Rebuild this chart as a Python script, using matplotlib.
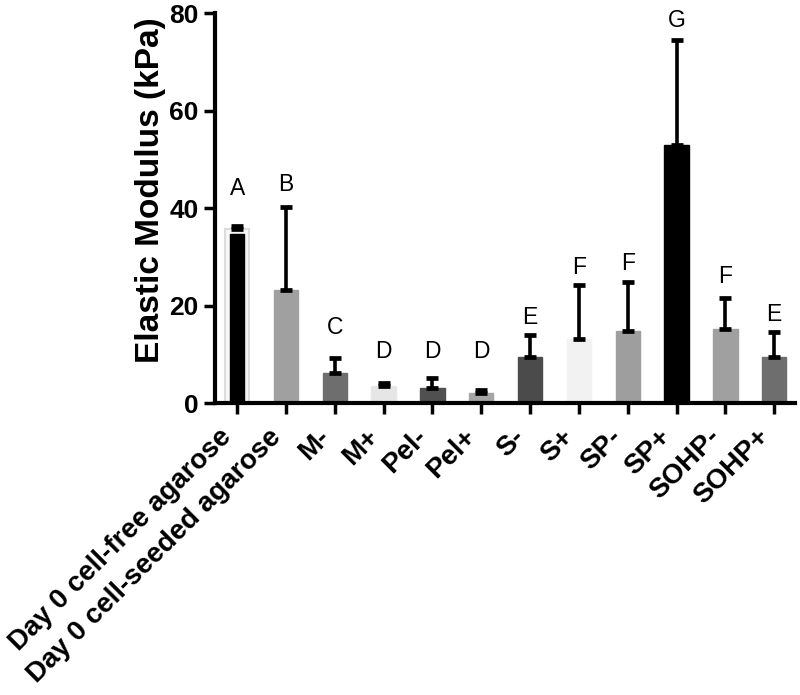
import matplotlib
matplotlib.use("Agg")
import matplotlib.pyplot as plt
import numpy as np

plt.rcParams['font.family'] = ['Liberation Sans', 'DejaVu Sans']

categories = ["Day 0 cell-free agarose", "Day 0 cell-seeded agarose", "M-", "M+",
              "Pel-", "Pel+", "S-", "S+", "SP-", "SP+", "SOHP-", "SOHP+"]
means = [34.8, 23.2, 6.1, 3.4, 3.0, 2.0, 9.5, 13.1, 14.8, 52.9, 15.2, 9.5]
errors = [1.6, 17.1, 3.1, 0.8, 2.1, 0.7, 4.4, 11.2, 10.1, 21.7, 6.3, 5.1]
colors = ["#000000", "#a0a0a0", "#6e6e6e", "#e6e6e6", "#505050", "#a5a5a5",
          "#4b4b4b", "#f2f2f2", "#9e9e9e", "#000000", "#a0a0a0", "#6e6e6e"]
letters = ["A", "B", "C", "D", "D", "D", "E", "F", "F", "G", "F", "E"]
letter_y = [44.1, 44.8, 15.6, 10.5, 10.5, 10.5, 17.5, 27.9, 28.7, 78.6, 25.9, 18.1]
# light outline bar behind the first bar
ghost_value = 35.8

fig = plt.figure(figsize=(8.0, 6.95), dpi=100)
ax = fig.add_axes([0.269, 0.4201, 0.725, 0.5607])

x = np.arange(len(categories))

ax.bar(x[0], ghost_value, width=0.5, color="#f7f7f7", edgecolor="#dcdcdc", linewidth=1.5, zorder=1)
widths = [0.3] + [0.5] * (len(categories) - 1)
ax.bar(x, means, width=widths, color=colors, edgecolor=colors, linewidth=1, zorder=2)

err_base = [max(m, ghost_value) if i == 0 else m for i, m in enumerate(means)]
err_len = [means[i] + errors[i] - err_base[i] for i in range(len(means))]
ax.errorbar(x, err_base, yerr=[np.zeros(len(x)), err_len], fmt='none',
            ecolor='black', elinewidth=2.6, capsize=4, capthick=3.4, zorder=3)

for xi, lt, ly in zip(x, letters, letter_y):
    ax.text(xi, ly, lt, ha='center', va='center', fontsize=16.5, color='black')

ax.set_xlim(-0.45, len(categories) - 1 + 0.43)
ax.set_ylim(0, 80)
ax.set_yticks([0, 20, 40, 60, 80])
ax.set_xticks(x)
ax.set_xticklabels(categories, rotation=45, ha='right', fontsize=20, fontweight='bold')
for lab in ax.get_yticklabels():
    lab.set_fontweight('bold')
    lab.set_fontsize(19)

ax.set_ylabel("Elastic Modulus (kPa)", fontsize=24, fontweight='bold', labelpad=2)
ax.yaxis.set_label_coords(-0.085, 0.545)

for s in ['top', 'right']:
    ax.spines[s].set_visible(False)
for s in ['left', 'bottom']:
    ax.spines[s].set_linewidth(3)
ax.tick_params(axis='both', length=8, width=2.5, pad=4, colors='black')
ax.tick_params(axis='x', pad=7)

fig.savefig("out.png", dpi=100)
